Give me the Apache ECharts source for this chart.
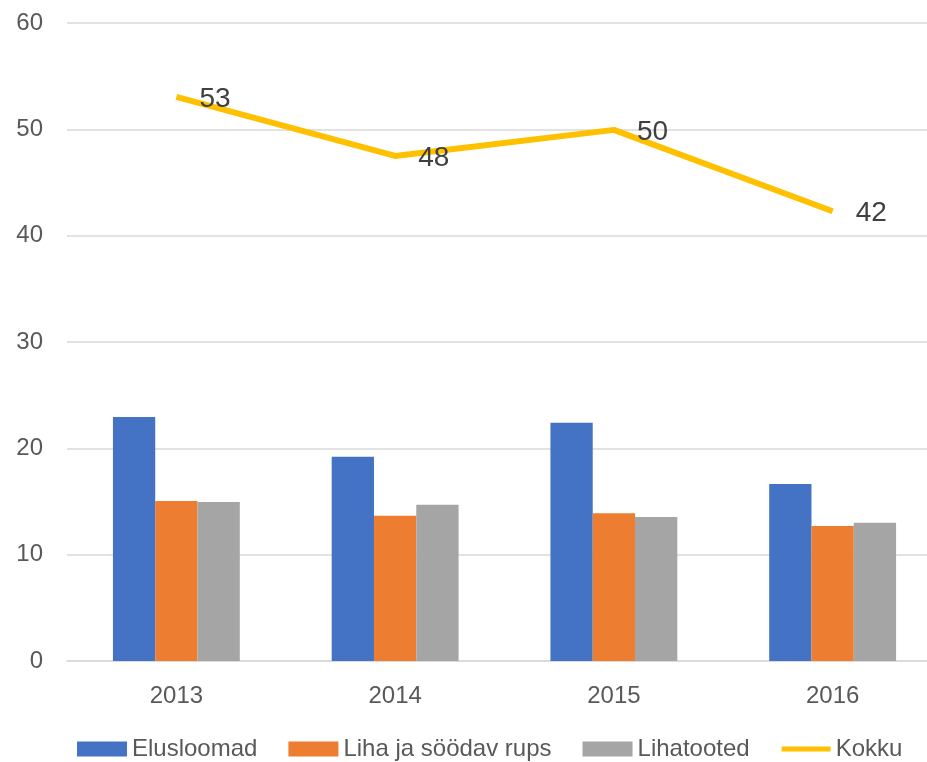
<!DOCTYPE html>
<html>
<head>
<meta charset="utf-8">
<script src="https://cdn.jsdelivr.net/npm/echarts@6/dist/echarts.min.js"></script>
<style>
  html, body { margin: 0; padding: 0; background: #fff; }
  #main { width: 927px; height: 762px; }
</style>
</head>
<body>
<div id="main"></div>
<script>
const years = ["2013", "2014", "2015", "2016"];
const elusloomad = [22.95, 19.2, 22.4, 16.65];
const liha = [15.05, 13.65, 13.9, 12.7];
const lihatooted = [14.95, 14.7, 13.55, 13.0];
const kokku = [53.05, 47.5, 49.95, 42.3];

const font = "'Liberation Sans', sans-serif";

// Bars share the same look, only colour differs
function barSeries(name, data, color) {
  return {
    name: name,
    type: "bar",
    data: data,
    barGap: "0%",
    barCategoryGap: "42%",
    itemStyle: { color: color },
  };
}

const chart = echarts.init(document.getElementById("main"));
chart.setOption({
  animation: false,
  textStyle: { fontFamily: font },
  grid: { left: 67, width: 875, top: 23, bottom: 101, outerBoundsMode: "none" },
  xAxis: {
    type: "category",
    data: years,
    axisTick: { show: false },
    axisLine: { lineStyle: { color: "#D9D9D9", width: 1.5 } },
    axisLabel: { color: "#595959", fontSize: 24, margin: 23, fontFamily: font },
  },
  yAxis: {
    type: "value",
    min: 0,
    max: 60,
    interval: 10,
    axisLabel: { color: "#595959", fontSize: 24, margin: 24, fontFamily: font },
    splitLine: { lineStyle: { color: "#D9D9D9", width: 1.5 } },
  },
  legend: {
    left: 72,
    top: 732,
    itemWidth: 50,
    itemHeight: 15,
    itemGap: 31,
    textStyle: { color: "#595959", fontSize: 24, fontFamily: font },
    data: [
      { name: "Elusloomad", icon: "rect" },
      { name: "Liha ja söödav rups", icon: "rect" },
      { name: "Lihatooted", icon: "rect" },
      // thick short line for the total, padded so it keeps its height
      { name: "Kokku", icon: "path://M0,0L0,0M0,15L0,15M1,5L52,5L52,10L1,10Z" },
    ],
  },
  series: [
    barSeries("Elusloomad", elusloomad, "#4472C4"),
    barSeries("Liha ja söödav rups", liha, "#ED7D31"),
    barSeries("Lihatooted", lihatooted, "#A5A5A5"),
    {
      name: "Kokku",
      type: "line",
      data: kokku,
      symbol: "circle",
      symbolSize: 0,
      lineStyle: { color: "#FFC000", width: 6 },
      itemStyle: { color: "#FFC000" },
      label: {
        show: true,
        position: "right",
        distance: 23,
        offset: [0, 2],
        color: "#404040",
        fontSize: 28,
        fontFamily: font,
        formatter: (p) => Math.round(p.value),
      },
    },
  ],
});
</script>
</body>
</html>
